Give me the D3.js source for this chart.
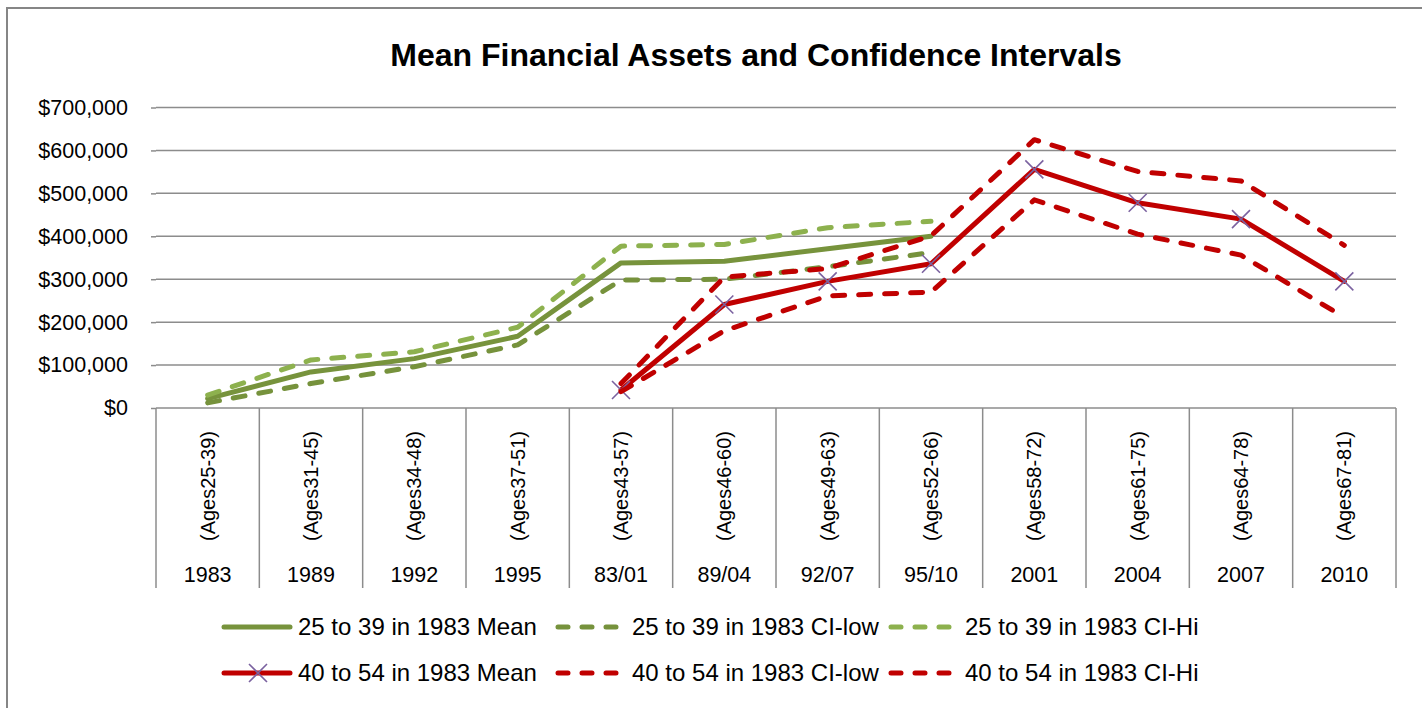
<!DOCTYPE html>
<html lang="en">
  <head>
    <meta charset="utf-8" />
    <title>Mean Financial Assets and Confidence Intervals</title>
    <script src="https://cdnjs.cloudflare.com/ajax/libs/d3/7.8.5/d3.min.js"></script>
    <style>
      body {
        margin: 0;
        background: #ffffff;
        font-family: "Liberation Sans", Arial, sans-serif;
      }
      .grid line {
        stroke: #8c8c8c;
        stroke-width: 1.5px;
      }
      .axis-line {
        stroke: #8c8c8c;
        stroke-width: 1.5px;
      }
    </style>
  </head>
  <body>
    <div id="chart"></div>

    <script>
      // categories (two level axis)
      const years = ["1983", "1989", "1992", "1995", "83/01", "89/04", "92/07", "95/10", "2001", "2004", "2007", "2010"];
      const ages = ["(Ages25-39)", "(Ages31-45)", "(Ages34-48)", "(Ages37-51)", "(Ages43-57)", "(Ages46-60)",
        "(Ages49-63)", "(Ages52-66)", "(Ages58-72)", "(Ages61-75)", "(Ages64-78)", "(Ages67-81)"];
      const yTicks = [0, 100000, 200000, 300000, 400000, 500000, 600000, 700000];

      // series values
      const greenMean = [22000, 84000, 115000, 167000, 338000, 342000, 371000, 400000, null, null, null, null];
      const greenLow = [12000, 57000, 96000, 147000, 298000, 300000, 329000, 362000, null, null, null, null];
      const greenHi = [30000, 112000, 131000, 188000, 377000, 381000, 420000, 435000, null, null, null, null];
      const redMean = [null, null, null, null, 42000, 241000, 295000, 336000, 556000, 478000, 440000, 295000];
      const redLow = [null, null, null, null, 38000, 180000, 261000, 270000, 485000, 405000, 356000, 211000];
      const redHi = [null, null, null, null, 57000, 305000, 325000, 401000, 625000, 551000, 529000, 379000];

      const seriesNames = [
        "25 to 39 in 1983 Mean", "25 to 39 in 1983 CI-low", "25 to 39 in 1983 CI-Hi",
        "40 to 54 in 1983 Mean", "40 to 54 in 1983 CI-low", "40 to 54 in 1983 CI-Hi",
      ];

      const series = [
        { name: seriesNames[0], values: greenMean, color: "#77933c", dashed: false, marker: false },
        { name: seriesNames[1], values: greenLow, color: "#76923c", dashed: true, marker: false },
        { name: seriesNames[2], values: greenHi, color: "#8db14e", dashed: true, marker: false },
        { name: seriesNames[3], values: redMean, color: "#c00000", dashed: false, marker: true },
        { name: seriesNames[4], values: redLow, color: "#c00000", dashed: true, marker: false },
        { name: seriesNames[5], values: redHi, color: "#c00000", dashed: true, marker: false },
      ];

      const width = 1422;
      const height = 708;
      const plot = { left: 156, right: 1396, top: 107.5, bottom: 408 };
      const axisBottom = 588;

      const svg = d3.select("#chart").append("svg")
        .attr("width", width)
        .attr("height", height);

      // chart frame
      svg.append("rect")
        .attr("x", 7).attr("y", 8)
        .attr("width", width).attr("height", height)
        .attr("fill", "#fff")
        .attr("stroke", "#868686")
        .attr("stroke-width", 2);

      svg.append("text")
        .attr("x", 756).attr("y", 66)
        .attr("text-anchor", "middle")
        .style("font-size", "32px")
        .style("font-weight", "bold")
        .text("Mean Financial Assets and Confidence Intervals");

      const x = d3.scaleBand().domain(years).range([plot.left, plot.right]);
      const y = d3.scaleLinear().domain([0, 700000]).range([plot.bottom, plot.top]);

      // gridlines
      svg.append("g").attr("class", "grid")
        .selectAll("line").data(yTicks.filter(d => d > 0)).enter()
        .append("line")
        .attr("x1", plot.left).attr("x2", plot.right)
        .attr("y1", d => y(d)).attr("y2", d => y(d));

      // y axis: ticks and labels
      const yAxis = d3.axisLeft(y)
        .tickValues(yTicks)
        .tickSize(5)
        .tickPadding(23)
        .tickFormat(d3.format("$,.0f"));
      const yg = svg.append("g")
        .attr("transform", `translate(${plot.left},0)`)
        .call(yAxis);
      yg.select(".domain").remove();
      yg.selectAll(".tick line").attr("stroke", "#8c8c8c").attr("stroke-width", 1.5);
      yg.selectAll(".tick text")
        .attr("fill", "#000")
        .style("font-size", "21.5px")
        .style("font-family", "'Liberation Sans', Arial, sans-serif");

      // category axis with box lines
      svg.append("line").attr("class", "axis-line")
        .attr("x1", plot.left).attr("x2", plot.right)
        .attr("y1", plot.bottom).attr("y2", plot.bottom);

      const edges = years.map(d => x(d)).concat([plot.right]);
      svg.append("g").selectAll("line").data(edges).enter()
        .append("line").attr("class", "axis-line")
        .attr("x1", d => d).attr("x2", d => d)
        .attr("y1", plot.bottom).attr("y2", axisBottom);

      const cx = d => x(d) + x.bandwidth() / 2;

      svg.append("g").selectAll("text").data(ages).enter()
        .append("text")
        .attr("transform", (d, i) => `translate(${cx(years[i])},486) rotate(-90)`)
        .attr("text-anchor", "middle")
        .attr("dy", "0.35em")
        .style("font-size", "20px")
        .text(d => d);

      svg.append("g").selectAll("text").data(years).enter()
        .append("text")
        .attr("x", d => cx(d)).attr("y", 574)
        .attr("text-anchor", "middle")
        .attr("dy", "0.35em")
        .style("font-size", "21.5px")
        .text(d => d);

      // lines
      const line = d3.line()
        .defined(d => d.v != null)
        .x(d => cx(d.k))
        .y(d => y(d.v));

      series.forEach(s => {
        const pts = s.values.map((v, i) => ({ k: years[i], v: v }));
        svg.append("path")
          .datum(pts)
          .attr("fill", "none")
          .attr("stroke", s.color)
          .attr("stroke-width", 5)
          .attr("stroke-linejoin", "round")
          .attr("stroke-linecap", "round")
          .attr("stroke-dasharray", s.dashed ? "12,14" : null)
          .attr("d", line);

        if (s.marker) {
          svg.append("g").selectAll("path")
            .data(pts.filter(d => d.v != null)).enter()
            .append("path")
            .attr("d", "M-9,-9L9,9M-9,9L9,-9")
            .attr("transform", d => `translate(${cx(d.k)},${y(d.v)})`)
            .attr("stroke", "#7b62a0")
            .attr("stroke-width", 1.6)
            .attr("fill", "none");
        }
      });

      // legend, two rows of three
      const legendX = [222, 556, 889];
      const legendY = [627, 673];
      const legend = svg.append("g").selectAll("g").data(series).enter()
        .append("g")
        .attr("transform", (d, i) => `translate(${legendX[i % 3]},${legendY[Math.floor(i / 3)]})`);

      legend.append("line")
        .attr("x1", 2).attr("x2", 68)
        .attr("stroke", d => d.color)
        .attr("stroke-width", 5)
        .attr("stroke-linecap", "round")
        .attr("stroke-dasharray", d => d.dashed ? "10,14" : null);

      legend.filter(d => d.marker).append("path")
        .attr("d", "M-9,-9L9,9M-9,9L9,-9")
        .attr("transform", "translate(36,0)")
        .attr("stroke", "#7b62a0")
        .attr("stroke-width", 1.6)
        .attr("fill", "none");

      legend.append("text")
        .attr("x", 76)
        .attr("dy", "0.35em")
        .style("font-size", "24px")
        .text(d => d.name);
    </script>
  </body>
</html>
